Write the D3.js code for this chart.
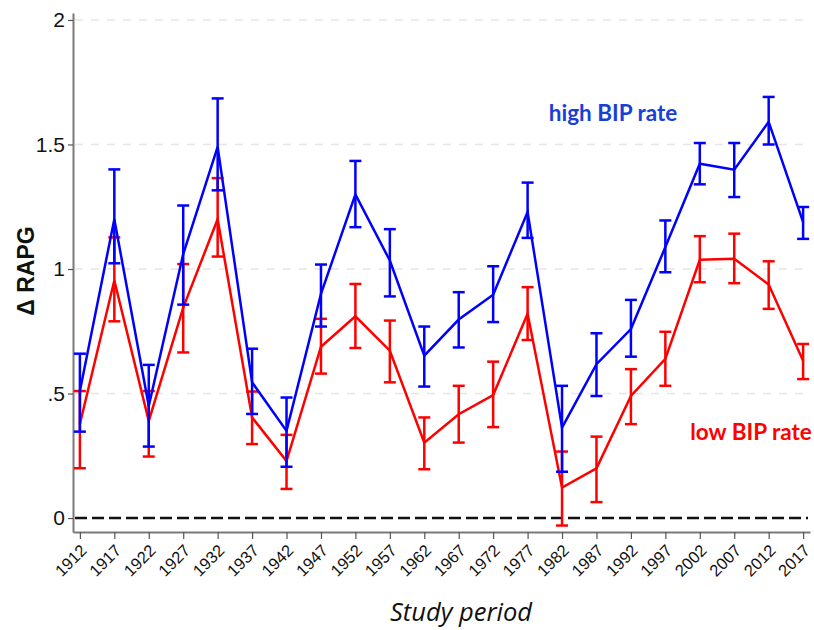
<!DOCTYPE html>
<html>
<head>
<meta charset="utf-8">
<script src="https://cdn.jsdelivr.net/npm/d3@7"></script>
<style>
  html, body { margin: 0; padding: 0; background: #fff; }
  svg { display: block; }
  .arial { font-family: Arial, "Liberation Sans", Helvetica, sans-serif; }
</style>
</head>
<body>
<svg id="chart" width="814" height="630"></svg>
<script>
// Study periods (start year of each 5-year window)
const years = [1912, 1917, 1922, 1927, 1932, 1937, 1942, 1947, 1952, 1957, 1962,
               1967, 1972, 1977, 1982, 1987, 1992, 1997, 2002, 2007, 2012, 2017];

// High BIP rate: estimate and 95% CI
const highMean  = [0.51, 1.20, 0.45, 1.06, 1.49, 0.545, 0.35, 0.90, 1.30, 1.034, 0.652,
                   0.797, 0.897, 1.229, 0.363, 0.618, 0.759, 1.088, 1.423, 1.399, 1.591, 1.188];
const highLower = [0.347, 1.023, 0.287, 0.857, 1.316, 0.418, 0.206, 0.769, 1.168, 0.89, 0.528,
                   0.685, 0.787, 1.125, 0.186, 0.49, 0.648, 0.987, 1.34, 1.289, 1.50, 1.121];
const highUpper = [0.66, 1.40, 0.615, 1.255, 1.685, 0.68, 0.484, 1.018, 1.434, 1.16, 0.769,
                   0.907, 1.011, 1.347, 0.531, 0.742, 0.876, 1.195, 1.506, 1.506, 1.691, 1.249];

// Low BIP rate: estimate and 95% CI
const lowMean  = [0.378, 0.954, 0.39, 0.845, 1.20, 0.404, 0.229, 0.688, 0.81, 0.672, 0.303,
                  0.417, 0.494, 0.82, 0.122, 0.20, 0.49, 0.639, 1.037, 1.041, 0.938, 0.632];
const lowLower = [0.20, 0.79, 0.247, 0.665, 1.05, 0.297, 0.117, 0.58, 0.683, 0.545, 0.196,
                  0.303, 0.365, 0.715, -0.03, 0.064, 0.377, 0.531, 0.947, 0.943, 0.84, 0.558];
const lowUpper = [0.51, 1.127, 0.51, 1.02, 1.365, 0.508, 0.334, 0.80, 0.94, 0.793, 0.404,
                  0.531, 0.628, 0.927, 0.267, 0.327, 0.598, 0.748, 1.132, 1.142, 1.031, 0.699];

const yTicks = [0, 0.5, 1, 1.5, 2];
const yTickLabels = ["0", ".5", "1", "1.5", "2"];

const svg = d3.select("#chart");

const x = d3.scaleLinear().domain([1911, 2018]).range([73, 810]);
const y = d3.scaleLinear().domain([-0.056, 2.028]).range([532, 13]);

const axisColor = "#7a7a7a";

// Horizontal grid lines
svg.append("g")
  .selectAll("line")
  .data(yTicks.filter(d => d > 0))
  .join("line")
  .attr("x1", x(1911) + 2).attr("x2", x(2018) - 2)
  .attr("y1", d => y(d)).attr("y2", d => y(d))
  .attr("stroke", "#e6e6e6")
  .attr("stroke-width", 1.5)
  .attr("stroke-dasharray", "8,8");

// Reference line at zero
svg.append("line")
  .attr("x1", x(1911) + 2).attr("x2", x(2018) - 2)
  .attr("y1", y(0)).attr("y2", y(0))
  .attr("stroke", "#111")
  .attr("stroke-width", 2.5)
  .attr("stroke-dasharray", "12,5");

// Y axis
const yAxis = svg.append("g")
  .attr("transform", `translate(${x(1911)},0)`)
  .call(d3.axisLeft(y).tickValues(yTicks)
    .tickFormat((d, i) => yTickLabels[i])
    .tickSize(5).tickSizeOuter(0).tickPadding(3));
yAxis.attr("font-family", null).attr("font-size", null).attr("class", "arial");
yAxis.select(".domain").attr("stroke", axisColor).attr("stroke-width", 2);
yAxis.selectAll(".tick line").attr("stroke", "#555").attr("stroke-width", 1.2);
yAxis.selectAll(".tick text")
  .style("font-size", "21px")
  .attr("fill", "#111");

// X axis
const xAxis = svg.append("g")
  .attr("transform", `translate(0,${y.range()[0]})`)
  .call(d3.axisBottom(x).tickValues(years).tickFormat(d3.format("d"))
    .tickSize(7).tickSizeOuter(0).tickPadding(2));
xAxis.attr("font-family", null).attr("font-size", null).attr("class", "arial");
xAxis.select(".domain").attr("stroke", axisColor).attr("stroke-width", 2);
xAxis.selectAll(".tick line").attr("stroke", "#555").attr("stroke-width", 1.2);
xAxis.selectAll(".tick text")
  .style("font-size", "16.5px")
  .attr("fill", "#111")
  .attr("text-anchor", "end")
  .attr("dy", "0.35em")
  .attr("transform", "translate(-3,9) rotate(-45)");

// Series with error bars
function drawSeries(mean, lower, upper, color) {
  const g = svg.append("g");
  const capHalf = 6;
  const bars = g.selectAll("g.err")
    .data(years.map((yr, i) => ({ yr, m: mean[i], lo: lower[i], hi: upper[i] })))
    .join("g").attr("class", "err");
  bars.append("line")
    .attr("x1", d => x(d.yr)).attr("x2", d => x(d.yr))
    .attr("y1", d => y(d.lo)).attr("y2", d => y(d.hi));
  bars.append("line")
    .attr("x1", d => x(d.yr) - capHalf).attr("x2", d => x(d.yr) + capHalf)
    .attr("y1", d => y(d.hi)).attr("y2", d => y(d.hi));
  bars.append("line")
    .attr("x1", d => x(d.yr) - capHalf).attr("x2", d => x(d.yr) + capHalf)
    .attr("y1", d => y(d.lo)).attr("y2", d => y(d.lo));
  bars.selectAll("line").attr("stroke", color).attr("stroke-width", 2.5);

  g.append("path")
    .datum(mean)
    .attr("fill", "none")
    .attr("stroke", color)
    .attr("stroke-width", 2.5)
    .attr("stroke-linejoin", "miter")
    .attr("d", d3.line().x((d, i) => x(years[i])).y(d => y(d)));
}

drawSeries(lowMean, lowLower, lowUpper, "#ff0000");
drawSeries(highMean, highLower, highUpper, "#0000ff");

// Series labels
svg.append("text")
  .attr("x", 613).attr("y", 121)
  .attr("text-anchor", "middle")
  .attr("font-family", "Lato, 'Open Sans', sans-serif")
  .attr("font-weight", "bold")
  .attr("font-size", 22.5)
  .attr("fill", "#1a3fd6")
  .text("high BIP rate");

svg.append("text")
  .attr("x", 751).attr("y", 440)
  .attr("text-anchor", "middle")
  .attr("font-family", "Lato, 'Open Sans', sans-serif")
  .attr("font-weight", "bold")
  .attr("font-size", 22.5)
  .attr("fill", "#ff0000")
  .text("low BIP rate");

// Axis titles
svg.append("text")
  .attr("class", "arial")
  .attr("transform", "translate(34,271) rotate(-90)")
  .attr("text-anchor", "middle")
  .attr("font-weight", "bold")
  .style("font-size", "23px")
  .attr("fill", "#111")
  .text("Δ RAPG");

svg.append("text")
  .attr("x", 461).attr("y", 621)
  .attr("text-anchor", "middle")
  .attr("font-family", "'Open Sans', sans-serif")
  .attr("font-style", "italic")
  .attr("font-size", 25.5)
  .attr("fill", "#111")
  .text("Study period");
</script>
</body>
</html>
